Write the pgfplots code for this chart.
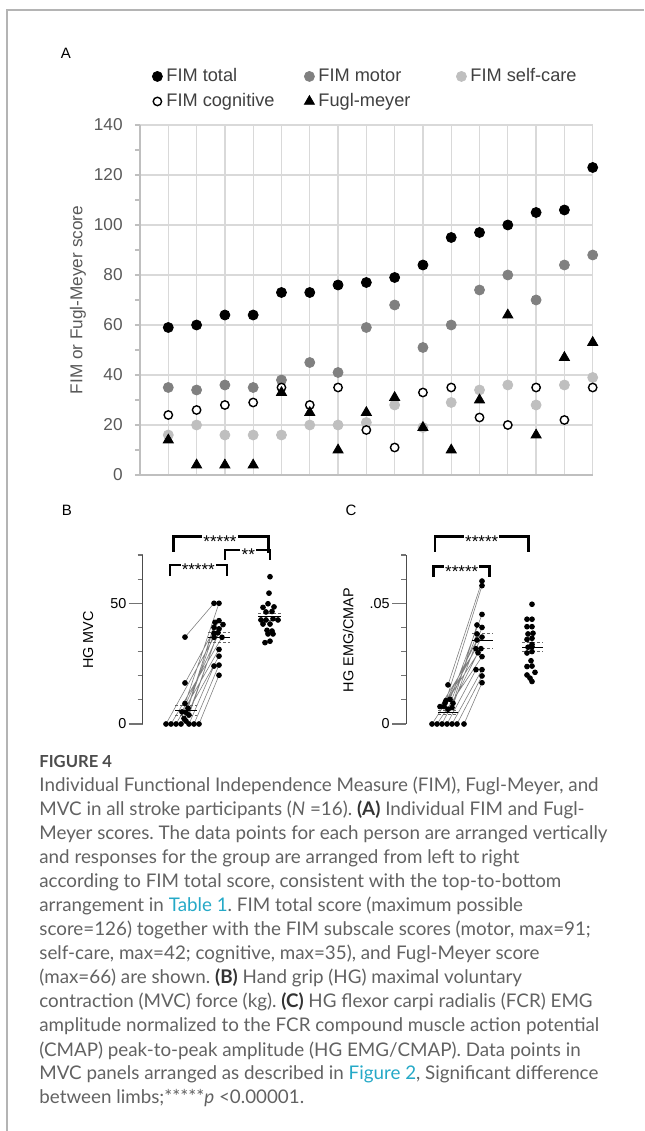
\documentclass[border=0pt]{standalone}
\usepackage{pgfplots}
\pgfplotsset{compat=1.18}
\usepackage{fontspec}
\setmainfont{Liberation Sans}
\newfontfamily\capfont{Lato}
\frenchspacing

\definecolor{gridc}{HTML}{D9D9D9}
\definecolor{axc}{HTML}{BFBFBF}
\definecolor{tickc}{HTML}{595959}
\definecolor{motorc}{HTML}{808080}
\definecolor{selfc}{HTML}{BFBFBF}
\definecolor{capc}{HTML}{626262}
\definecolor{linkc}{HTML}{25A9C7}
\definecolor{framec}{HTML}{B4B4B4}

\newcommand{\afont}{\fontsize{8.6}{10}\selectfont}
\newcommand{\lfont}{\fontsize{9.1}{10}\selectfont}
\newcommand{\bfont}{\fontsize{7.2}{8.5}\selectfont}
\newcommand{\cfont}{\fontsize{9.4}{12}\selectfont\capfont}

\begin{document}
\begin{tikzpicture}
\useasboundingbox (0,0) rectangle (322pt,565.5pt);

% ---------------- panel A ----------------
\begin{axis}[
    at={(70pt,328pt)}, anchor=south west,
    scale only axis, width=226.35pt, height=175pt,
    xmin=0, xmax=16, ymin=0, ymax=140,
    axis x line*=bottom, axis y line*=left,
    axis line style={axc, line width=0.75pt},
    xtick={1,...,16}, xticklabels={}, xtick style={draw=none},
    ytick={0,20,...,140}, minor ytick={10,30,...,130},
    tick align=outside, major tick length=2.5pt, minor tick length=2.5pt,
    ytick style={axc, line width=0.7pt},
    grid=major, major grid style={gridc, line width=0.65pt},
    /pgf/number format/assume math mode=true,
    yticklabel style={font=\afont, text=tickc, inner sep=0pt, anchor=east, xshift=-6pt},
    ylabel={FIM or Fugl-Meyer score},
    every axis y label/.style={at={(axis description cs:-0.137,0.5)}, rotate=90, anchor=center, font=\afont, text=tickc},
    legend columns=3,
    legend style={draw=none, fill=none, inner sep=0pt, font=\lfont, text=black!75,
        at={(axis description cs:0.0265,1.163)}, anchor=north west, row sep=4.4pt,
        nodes={inner sep=0pt, text height=6.4pt, text depth=1.7pt},
        /tikz/every odd column/.append style={column sep=2pt}},
    legend cell align=left,
]
\addplot[only marks, mark=*, mark size=2.5pt, black] coordinates {
(1,59)(2,60)(3,64)(4,64)(5,73)(6,73)(7,76)(8,77)(9,79)(10,84)(11,95)(12,97)(13,100)(14,105)(15,106)(16,123)};
\addlegendentry{\makebox[69pt][l]{FIM total}}
\addplot[only marks, mark=*, mark size=2.5pt, motorc] coordinates {
(1,35)(2,34)(3,36)(4,35)(5,38)(6,45)(7,41)(8,59)(9,68)(10,51)(11,60)(12,74)(13,80)(14,70)(15,84)(16,88)};
\addlegendentry{\makebox[69pt][l]{FIM motor}}
\addplot[only marks, mark=*, mark size=2.5pt, selfc] coordinates {
(1,16)(2,20)(3,16)(4,16)(5,16)(6,20)(7,20)(8,21)(9,28)(10,19)(11,29)(12,34)(13,36)(14,28)(15,36)(16,39)};
\addlegendentry{FIM self-care}
\addplot[only marks, mark=*, mark size=2.1pt, mark options={fill=white, draw=black, line width=0.7pt}] coordinates {
(1,24)(2,26)(3,28)(4,29)(5,35)(6,28)(7,35)(8,18)(9,11)(10,33)(11,35)(12,23)(13,20)(14,35)(15,22)(16,35)};
\addlegendentry{\makebox[69pt][l]{FIM cognitive}}
\addplot[only marks, mark=triangle*, mark size=2.9pt, black] coordinates {
(1,14)(2,4)(3,4)(4,4)(5,33)(6,25)(7,10)(8,25)(9,31)(10,19)(11,10)(12,30)(13,64)(14,16)(15,47)(16,53)};
\addlegendentry{\makebox[69pt][l]{Fugl-meyer}}
\end{axis}

% ---------------- panel B ----------------
\begin{axis}[
    at={(71.35pt,203.5pt)}, anchor=south west,
    scale only axis, width=75pt, height=84.5pt,
    xmin=142.7, xmax=292.7, ymin=0, ymax=70,
    axis x line=none, axis y line*=left, clip=false,
    axis line style={black!70, line width=0.5pt},
    ytick={0,50}, minor ytick={10,20,30,40,60,70},
    tick align=outside, major tick length=7pt, minor tick length=2.5pt,
    ytick style={black!55, line width=0.6pt},
    /pgf/number format/assume math mode=true,
    yticklabel style={font=\bfont, inner sep=0pt, anchor=east, xshift=-1pt},
    ylabel={HG MVC},
    every axis y label/.style={at={(axis description cs:-0.363,0.497)}, rotate=90, anchor=center, font=\bfont},
]
\addplot[black!50, line width=0.3pt, unbounded coords=jump] coordinates {
(185,36)(214,50) (nan,nan) (185,17)(219,42.8) (nan,nan) (185,8.5)(219,50) (nan,nan)
(188,6.5)(215,42.1) (nan,nan) (182,5)(223,41.2) (nan,nan) (186,4.8)(214,40) (nan,nan)
(189,3.7)(219,39.4) (nan,nan) (184,2.3)(214,37.6) (nan,nan) (186,1.2)(218,37.8) (nan,nan)
(166,0)(214,35.9) (nan,nan) (171,0)(222,35.9) (nan,nan) (176,0)(219,30.9) (nan,nan)
(181,0)(219,28.1) (nan,nan) (189,0)(214,24) (nan,nan) (194,0)(219,24.4) (nan,nan) (199,0)(219,20.2)};
\addplot[only marks, mark=*, mark size=1.2pt, black] coordinates {
(185,36)(185,17)(185,8.5)(188,6.5)(182,5)(186,4.8)(189,3.7)(184,2.3)(186,1.2)
(166,0)(171,0)(176,0)(181,0)(189,0)(194,0)(199,0)
(214,50)(219,50)(215,42.1)(219,42.8)(223,41.2)(214,40)(219,39.4)(214,37.6)(218,37.8)
(214,35.9)(222,35.9)(219,30.9)(219,28.1)(214,24)(219,24.4)(219,20.2)
(270,61)(269,54.2)(268,49.8)(274,48.5)(263,48.3)(266,46.4)(272,46.6)
(261,43.1)(266,43.1)(273,43.6)(278,43.1)(263,41.4)(270,41.4)(267,38.8)(272,38.5)
(268,37.3)(273,37.3)(265,33.7)(270,34.3)};
\addplot[black, line width=0.4pt, unbounded coords=jump] coordinates {
(175,5.5)(197,5.5) (nan,nan) (208,35.9)(230,35.9) (nan,nan) (258,44.5)(281,44.5)};
\addplot[black!60, line width=0.4pt, dash pattern=on 1.5pt off 1pt, unbounded coords=jump] coordinates {
(175,7.5)(197,7.5) (nan,nan) (175,3.7)(197,3.7) (nan,nan)
(208,38)(230,38) (nan,nan) (208,33.9)(230,33.9) (nan,nan)
(258,46)(281,46) (nan,nan) (258,42.8)(281,42.8)};
% significance brackets
\draw[line width=1.2pt] (axis cs:173.3,71.4) -- (axis cs:173.3,77.6) -- (axis cs:268.3,77.6) -- (axis cs:268.3,71);
\draw[line width=1.2pt] (axis cs:225,67.9) -- (axis cs:225,72.1) -- (axis cs:270,72.1) -- (axis cs:270,67.9);
\draw[line width=1.2pt] (axis cs:170,61.3) -- (axis cs:170,65.9) -- (axis cs:226.7,65.9) -- (axis cs:226.7,61.3);
\node[fill=white, inner sep=0.6pt, anchor=base, font=\fontsize{8.5}{9}\selectfont, yshift=-5.4pt] at (axis cs:220,77.6) {*****};
\node[fill=white, inner sep=0.6pt, anchor=base, font=\fontsize{8.5}{9}\selectfont, yshift=-5.4pt] at (axis cs:248.3,72.1) {**};
\node[fill=white, inner sep=0.6pt, anchor=base, font=\fontsize{8.5}{9}\selectfont, yshift=-5.4pt] at (axis cs:198.3,65.9) {*****};
\end{axis}

% ---------------- panel C ----------------
\begin{axis}[
    at={(203pt,203.5pt)}, anchor=south west,
    scale only axis, width=75pt, height=84.5pt,
    xmin=406, xmax=556, ymin=0, ymax=0.07,
    axis x line=none, axis y line*=left, clip=false,
    axis line style={black!70, line width=0.5pt},
    ytick={0,0.05}, yticklabels={0,.05}, scaled y ticks=false,
    minor ytick={0.01,0.02,0.03,0.04,0.06,0.07},
    tick align=outside, major tick length=7pt, minor tick length=2.5pt,
    ytick style={black!55, line width=0.6pt},
    yticklabel style={font=\bfont, inner sep=0pt, anchor=east, xshift=-1pt},
    ylabel={HG EMG/CMAP},
    every axis y label/.style={at={(axis description cs:-0.385,0.497)}, rotate=90, anchor=center, font=\bfont},
]
\addplot[black!50, line width=0.3pt, unbounded coords=jump] coordinates {
(448,0.0162)(482,0.0592) (nan,nan) (446,0.0097)(482,0.0573) (nan,nan) (450,0.0102)(482,0.0454) (nan,nan)
(453,0.0086)(477,0.041) (nan,nan) (452,0.0068)(482,0.040) (nan,nan) (448,0.0061)(477,0.0373) (nan,nan)
(444,0.0072)(482,0.036) (nan,nan) (445,0.0086)(477,0.0348) (nan,nan) (440,0.0072)(476,0.0312) (nan,nan)
(432,0)(481,0.0312) (nan,nan) (437,0)(482,0.0279) (nan,nan) (442,0)(478,0.0295) (nan,nan)
(447,0)(476,0.0225) (nan,nan) (452,0)(482,0.0225) (nan,nan) (457,0)(482,0.0199) (nan,nan) (464,0)(482,0.0171)};
\addplot[only marks, mark=*, mark size=1.2pt, black] coordinates {
(448,0.0162)(446,0.0097)(450,0.0102)(453,0.0086)(452,0.0068)(448,0.0061)(444,0.0072)(445,0.0086)(440,0.0072)
(432,0)(437,0)(442,0)(447,0)(452,0)(457,0)(464,0)
(482,0.0592)(482,0.0573)(482,0.0454)(477,0.041)(482,0.040)(477,0.0373)(482,0.036)(477,0.0348)
(476,0.0312)(481,0.0312)(482,0.0279)(478,0.0295)(476,0.0225)(482,0.0225)(482,0.0199)(482,0.0171)
(532,0.0496)(527,0.0434)(532,0.0434)(527,0.0403)(532,0.0403)(528,0.0373)(533,0.0376)
(527,0.035)(532,0.0355)(532,0.033)(528,0.0318)(532,0.032)(527,0.0294)(532,0.030)
(531,0.0262)(527,0.0238)(532,0.024)(527,0.0203)(530,0.019)(535,0.0214)(532,0.0176)};
\addplot[black, line width=0.4pt, unbounded coords=jump] coordinates {
(438,0.0047)(458,0.0047) (nan,nan) (472,0.0345)(493,0.0345) (nan,nan) (522,0.0318)(543,0.0318)};
\addplot[black!60, line width=0.4pt, dash pattern=on 1.5pt off 1pt, unbounded coords=jump] coordinates {
(438,0.0055)(458,0.0055) (nan,nan) (438,0.0038)(458,0.0038) (nan,nan)
(472,0.0376)(493,0.0376) (nan,nan) (472,0.0314)(493,0.0314) (nan,nan)
(522,0.0337)(543,0.0337) (nan,nan) (522,0.0300)(543,0.0300)};
\draw[line width=1.2pt] (axis cs:435,0.0714) -- (axis cs:435,0.0776) -- (axis cs:528.3,0.0776) -- (axis cs:528.3,0.0714);
\draw[line width=1.2pt] (axis cs:433.3,0.061) -- (axis cs:433.3,0.0652) -- (axis cs:489.3,0.0652) -- (axis cs:489.3,0.061);
\node[fill=white, inner sep=0.6pt, anchor=base, font=\fontsize{8.5}{9}\selectfont, yshift=-5.4pt] at (axis cs:481.7,0.0776) {*****};
\node[fill=white, inner sep=0.6pt, anchor=base, font=\fontsize{8.5}{9}\selectfont, yshift=-5.4pt] at (axis cs:461.7,0.0652) {*****};
\end{axis}

% ---------------- frame, panel letters, caption ----------------
\begin{scope}[x=0.5pt, y=-0.5pt, shift={(0pt,565.5pt)}]
\draw[framec, line width=0.8pt] (7,1131) -- (7,10) -- (644,10);
\node[font=\fontsize{7.5}{9}\selectfont] at (66,53) {A};
\node[font=\fontsize{7.5}{9}\selectfont] at (67,510) {B};
\node[font=\fontsize{7.5}{9}\selectfont] at (351,510) {C};
\node[anchor=base west, inner sep=0pt, font=\fontsize{8.3}{9}\selectfont\capfont\bfseries, text=black!70] at (39,768) {FIGURE 4};
\begin{scope}[every node/.style={anchor=base west, inner sep=0pt, font=\cfont, text=capc}]
\node at (39,792) {Individual Functional Independence Measure (FIM), Fugl-Meyer, and};
\node at (39,816) {MVC in all stroke participants (\textit{N} =16). {\bfseries\color{black!80}(A)} Individual FIM and Fugl-};
\node at (39,840) {Meyer scores. The data points for each person are arranged vertically};
\node at (39,864) {and responses for the group are arranged from left to right};
\node at (39,888) {according to FIM total score, consistent with the top-to-bottom};
\node at (39,912) {arrangement in {\color{linkc}Table 1}. FIM total score (maximum possible};
\node at (39,936) {score=126) together with the FIM subscale scores (motor, max=91;};
\node at (39,960) {self-care, max=42; cognitive, max=35), and Fugl-Meyer score};
\node at (39,984) {(max=66) are shown. {\bfseries\color{black!80}(B)} Hand grip (HG) maximal voluntary};
\node at (39,1008) {contraction (MVC) force (kg). {\bfseries\color{black!80}(C)} HG flexor carpi radialis (FCR) EMG};
\node at (39,1032) {amplitude normalized to the FCR compound muscle action potential};
\node at (39,1056) {(CMAP) peak-to-peak amplitude (HG EMG/CMAP). Data points in};
\node at (39,1080) {MVC panels arranged as described in {\color{linkc}Figure 2}, Significant difference};
\node at (39,1104) {between limbs;*****\textit{p} <0.00001.};
\end{scope}
\end{scope}
\end{tikzpicture}
\end{document}
